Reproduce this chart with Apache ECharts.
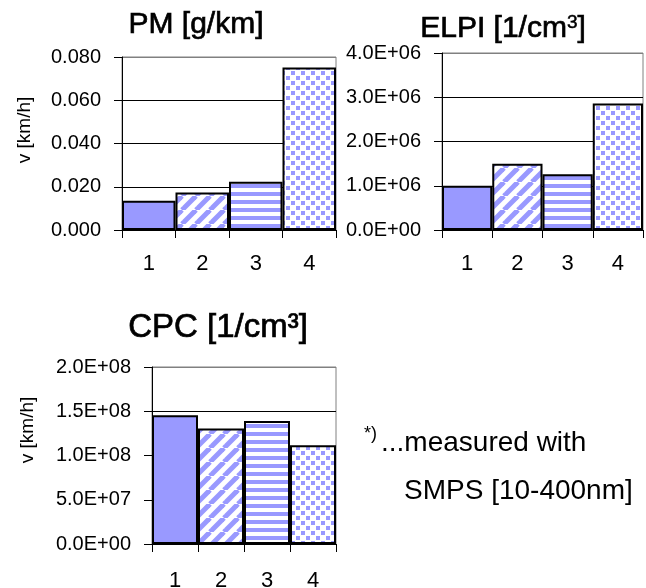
<!DOCTYPE html>
<html>
<head>
<meta charset="utf-8">
<script src="https://cdn.jsdelivr.net/npm/echarts@6/dist/echarts.min.js"></script>
<style>
  html, body { margin: 0; padding: 0; background: #fff; }
  #chart { width: 646px; height: 588px; }
</style>
</head>
<body>
<div id="chart"></div>
<script>
// Driving cycle categories shared by all three panels
const categories = ['1', '2', '3', '4'];

// Particle mass [g/km]
const pmValues = [0.0135, 0.0173, 0.0223, 0.0751];
const pmAxis = [0, 0.08, 0.02];          // min, max, interval

// ELPI number concentration [1/cm3]
const elpiValues = [1.0e6, 1.5e6, 1.26e6, 2.86e6];
const elpiAxis = [0, 4.0e6, 1.0e6];

// CPC number concentration [1/cm3]
const cpcValues = [1.455e8, 1.305e8, 1.39e8, 1.117e8];
const cpcAxis = [0, 2.0e8, 0.5e8];

const FONT = '"Liberation Sans", Arial, sans-serif';
const BLUE = '#9999FF';

// ---- fill patterns for the four bars ----
function tile(size, draw) {
  const c = document.createElement('canvas');
  c.width = size; c.height = size;
  const g = c.getContext('2d');
  g.fillStyle = '#fff';
  g.fillRect(0, 0, size, size);
  g.fillStyle = BLUE;
  g.strokeStyle = BLUE;
  draw(g, size);
  return { image: c, repeat: 'repeat' };
}
const diagonal = tile(14, (g, n) => {
  g.lineWidth = 5;
  for (let k = -1; k <= 1; k++) {
    g.beginPath();
    g.moveTo(k * n, n);
    g.lineTo(k * n + n, 0);
    g.stroke();
  }
});
const horizontal = tile(8, (g, n) => {
  g.fillRect(0, 0, n, 4);
});
const dotted = tile(10, (g) => {
  g.fillRect(1, 1, 4, 4);
  g.fillRect(6, 6, 4, 4);
});
const fills = [BLUE, diagonal, horizontal, dotted];

function sci(v) {
  if (v === 0) return '0.0E+00';
  const e = Math.floor(Math.log10(v) + 1e-9);
  const m = v / Math.pow(10, e);
  return m.toFixed(1) + 'E+' + String(e).padStart(2, '0');
}

const grids = [
  { left: 122, top: 57, width: 214, height: 173 },
  { left: 442, top: 53, width: 201, height: 177 },
  { left: 152, top: 367, width: 184, height: 177 }
];
const axes = [pmAxis, elpiAxis, cpcAxis];
const values = [pmValues, elpiValues, cpcValues];
const formatters = [v => v.toFixed(3), sci, sci];

const gridLineColors = ['#000', '#000', '#000', '#000', '#808080'];

// slightly heavier than regular weight for the panel headings
const headStyle = (size) => ({
  fontFamily: FONT, fontSize: size, fontWeight: 'normal', color: '#000',
  textBorderColor: '#000', textBorderWidth: 0.7
});

const option = {
  animation: false,
  backgroundColor: '#fff',
  title: [
    { text: 'PM [g/km]', left: 191, top: 5, textAlign: 'center', textStyle: headStyle(30) },
    { text: 'ELPI [1/cm{sup|3}]', left: 498, top: 8, textAlign: 'center',
      textStyle: Object.assign(headStyle(30), {
        rich: { sup: { fontFamily: FONT, fontSize: 19, color: '#000',
          textBorderColor: '#000', textBorderWidth: 0.5,
          verticalAlign: 'top', padding: [0, 0, 12, 0] } } }) },
    { text: 'CPC [1/cm³]', left: 213, top: 306, textAlign: 'center', textStyle: headStyle(33) }
  ],
  grid: grids.map(g => Object.assign({
    show: true, borderColor: '#808080', borderWidth: 1, backgroundColor: 'transparent',
    containLabel: false, outerBoundsMode: 'none'
  }, g)),
  xAxis: grids.map((g, i) => ({
    type: 'category',
    gridIndex: i,
    data: categories,
    boundaryGap: true,
    axisLine: { show: true, lineStyle: { color: '#000', width: 1 } },
    axisTick: { show: true, length: 8, lineStyle: { color: '#000' } },
    axisLabel: { margin: i === 2 ? 26 : 23, fontFamily: FONT, fontSize: 22, color: '#000' },
    splitLine: { show: false }
  })),
  yAxis: grids.map((g, i) => ({
    type: 'value',
    gridIndex: i,
    min: axes[i][0],
    max: axes[i][1],
    interval: axes[i][2],
    axisLine: { show: true, lineStyle: { color: '#000', width: 1 } },
    axisTick: { show: true, length: 8, lineStyle: { color: '#000' } },
    axisLabel: { margin: 21, fontFamily: FONT, fontSize: 20, color: '#000', formatter: formatters[i] },
    splitLine: { show: true, lineStyle: { color: gridLineColors, width: 1 } }
  })),
  series: values.map((vals, i) => ({
    type: 'bar',
    xAxisIndex: i,
    yAxisIndex: i,
    barWidth: '100%',
    silent: true,
    itemStyle: { borderColor: '#000', borderWidth: 2 },
    data: vals.map((v, k) => ({ value: v, itemStyle: { color: fills[k] } }))
  })),
  graphic: [
    { type: 'text', x: 25, y: 130, rotation: Math.PI / 2,
      style: { text: 'v [km/h]', font: '19px ' + FONT, fill: '#000', align: 'center', verticalAlign: 'middle' } },
    { type: 'text', x: 28, y: 430, rotation: Math.PI / 2,
      style: { text: 'v [km/h]', font: '19px ' + FONT, fill: '#000', align: 'center', verticalAlign: 'middle' } },
    { type: 'text', x: 364, y: 425,
      style: { text: '*)', font: '18px ' + FONT, fill: '#000', align: 'left', verticalAlign: 'top' } },
    { type: 'text', x: 381, y: 443,
      style: { text: '...measured with', font: '28px ' + FONT, fill: '#000', align: 'left', verticalAlign: 'middle' } },
    { type: 'text', x: 404, y: 491,
      style: { text: 'SMPS [10-400nm]', font: '28px ' + FONT, fill: '#000', align: 'left', verticalAlign: 'middle' } }
  ]
};

const chart = echarts.init(document.getElementById('chart'), null, { renderer: 'canvas' });
chart.setOption(option);
</script>
</body>
</html>
